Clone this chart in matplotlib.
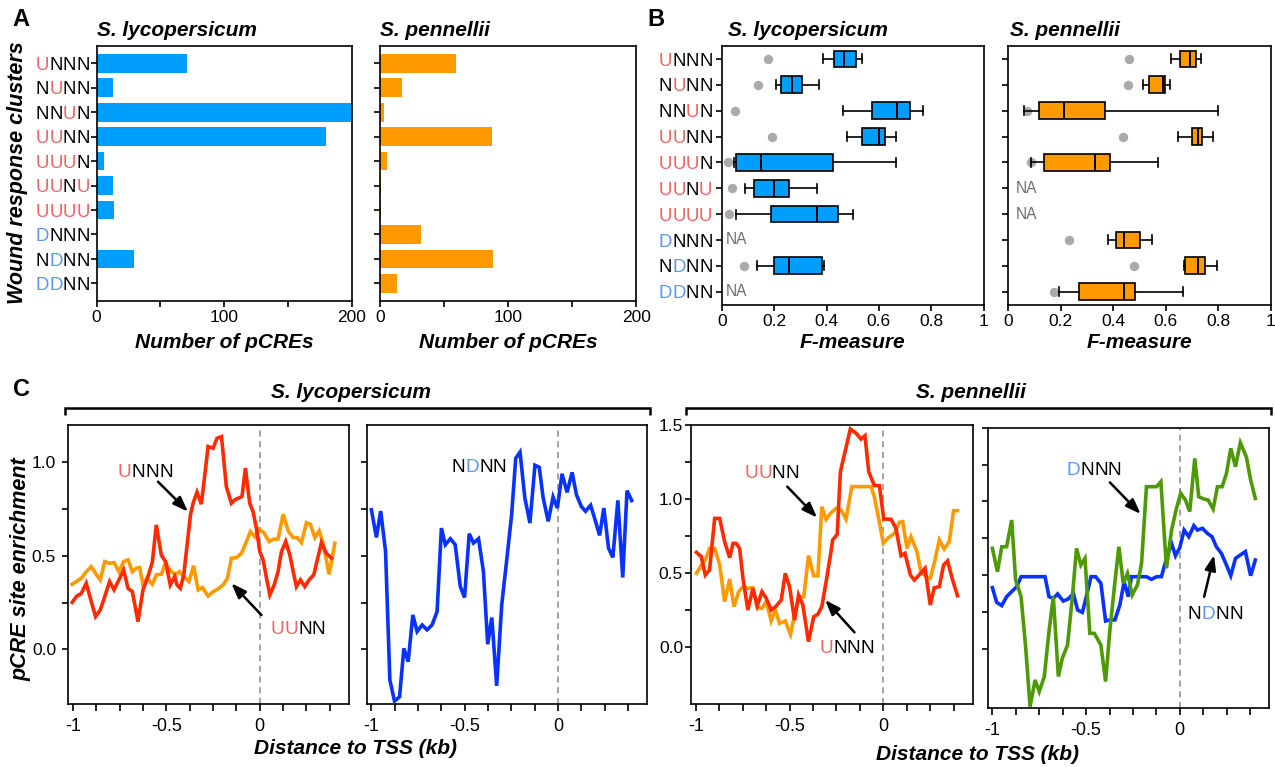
import matplotlib
matplotlib.use('Agg')
import matplotlib.pyplot as plt
import matplotlib.transforms as mtransforms
from matplotlib.lines import Line2D

plt.rcParams['font.family'] = ['Liberation Sans', 'DejaVu Sans']

# ---------------- data ----------------
clusters = ['UNNN', 'NUNN', 'NNUN', 'UUNN', 'UUUN', 'UUNU', 'UUUU', 'DNNN', 'NDNN', 'DDNN']

# Panel A: number of pCREs
bars_lyc = [71, 13, 200, 180, 6, 13, 14, 0, 29, 0]
bars_pen = [59, 17, 3, 87, 5, 0.4, 0.4, 32, 88, 13]

# Panel B: F-measure box statistics (None = NA)
lyc_whislo = [0.385, 0.206, 0.462, 0.478, 0.045, 0.088, 0.052, None, 0.134, None]
lyc_q1 = [0.429, 0.226, 0.574, 0.537, 0.055, 0.121, 0.188, None, 0.197, None]
lyc_med = [0.466, 0.267, 0.668, 0.600, 0.148, 0.200, 0.364, None, 0.257, None]
lyc_q3 = [0.511, 0.305, 0.718, 0.625, 0.426, 0.258, 0.444, None, 0.383, None]
lyc_whishi = [0.536, 0.370, 0.768, 0.667, 0.667, 0.364, 0.501, None, 0.389, None]
lyc_random = [0.176, 0.136, 0.051, 0.190, 0.024, 0.039, 0.028, None, 0.083, None]

pen_whislo = [0.619, 0.513, 0.060, 0.646, 0.086, None, None, 0.380, 0.670, 0.196]
pen_q1 = [0.656, 0.535, 0.118, 0.699, 0.137, None, None, 0.410, 0.675, 0.271]
pen_med = [0.694, 0.589, 0.213, 0.722, 0.333, None, None, 0.443, 0.722, 0.440]
pen_q3 = [0.717, 0.598, 0.371, 0.738, 0.390, None, None, 0.503, 0.749, 0.485]
pen_whishi = [0.736, 0.618, 0.800, 0.780, 0.570, None, None, 0.550, 0.795, 0.665]
pen_random = [0.460, 0.455, 0.072, 0.438, 0.087, None, None, 0.234, 0.478, 0.177]

# Panel C: pCRE site enrichment (distance kb, enrichment)
lyc_UNNN = [(-1.004, 0.251), (-0.982, 0.282), (-0.955, 0.299), (-0.929, 0.353), (-0.902, 0.255),
            (-0.879, 0.175), (-0.854, 0.210), (-0.830, 0.282), (-0.804, 0.362), (-0.780, 0.318),
            (-0.754, 0.371), (-0.729, 0.424), (-0.705, 0.326), (-0.682, 0.308), (-0.652, 0.148),
            (-0.625, 0.318), (-0.598, 0.389), (-0.575, 0.467), (-0.554, 0.665), (-0.527, 0.504),
            (-0.504, 0.468), (-0.479, 0.344), (-0.455, 0.389), (-0.443, 0.344), (-0.425, 0.326),
            (-0.407, 0.398), (-0.389, 0.558), (-0.371, 0.719), (-0.357, 0.781), (-0.336, 0.840),
            (-0.313, 0.776), (-0.291, 0.959), (-0.277, 1.084), (-0.250, 1.075), (-0.229, 1.128),
            (-0.205, 1.137), (-0.179, 0.870), (-0.152, 0.781), (-0.134, 0.799), (-0.113, 0.808),
            (-0.095, 0.817), (-0.077, 0.968), (-0.054, 0.781), (-0.036, 0.736), (-0.018, 0.647),
            (0.000, 0.522), (0.018, 0.478), (0.036, 0.380), (0.054, 0.291), (0.077, 0.344),
            (0.098, 0.415), (0.116, 0.522), (0.139, 0.576), (0.161, 0.504), (0.179, 0.415),
            (0.196, 0.335), (0.218, 0.371), (0.241, 0.335), (0.264, 0.371), (0.289, 0.398),
            (0.313, 0.499), (0.330, 0.570), (0.357, 0.512), (0.384, 0.488)]
lyc_UUNN = [(-1.004, 0.348), (-0.982, 0.362), (-0.955, 0.380), (-0.929, 0.415), (-0.902, 0.442),
            (-0.879, 0.406), (-0.854, 0.371), (-0.830, 0.469), (-0.804, 0.460), (-0.780, 0.463),
            (-0.754, 0.415), (-0.729, 0.469), (-0.705, 0.478), (-0.682, 0.415), (-0.661, 0.433),
            (-0.643, 0.437), (-0.625, 0.344), (-0.604, 0.380), (-0.575, 0.348), (-0.554, 0.398),
            (-0.527, 0.401), (-0.504, 0.463), (-0.482, 0.424), (-0.455, 0.398), (-0.429, 0.415),
            (-0.407, 0.389), (-0.379, 0.362), (-0.354, 0.447), (-0.330, 0.317), (-0.307, 0.330),
            (-0.277, 0.285), (-0.250, 0.308), (-0.223, 0.323), (-0.196, 0.344), (-0.173, 0.380),
            (-0.152, 0.487), (-0.125, 0.490), (-0.098, 0.513), (-0.075, 0.567), (-0.050, 0.629),
            (-0.027, 0.602), (-0.004, 0.642), (0.021, 0.624), (0.050, 0.576), (0.071, 0.588),
            (0.098, 0.590), (0.125, 0.722), (0.152, 0.633), (0.179, 0.597), (0.200, 0.597),
            (0.223, 0.570), (0.250, 0.677), (0.271, 0.668), (0.295, 0.597), (0.318, 0.633),
            (0.339, 0.567), (0.371, 0.401), (0.402, 0.567)]
lyc_NDNN = [(-1.000, 0.746), (-0.973, 0.598), (-0.950, 0.739), (-0.924, 0.523), (-0.901, -0.164),
            (-0.876, -0.277), (-0.849, -0.254), (-0.826, 0.005), (-0.803, -0.066), (-0.778, 0.184),
            (-0.755, 0.095), (-0.728, 0.130), (-0.702, 0.104), (-0.675, 0.130), (-0.648, 0.202),
            (-0.625, 0.648), (-0.604, 0.559), (-0.577, 0.591), (-0.551, 0.559), (-0.524, 0.336),
            (-0.501, 0.277), (-0.476, 0.618), (-0.453, 0.568), (-0.426, 0.591), (-0.400, 0.416),
            (-0.377, 0.027), (-0.355, 0.170), (-0.329, -0.195), (-0.302, 0.237), (-0.275, 0.479),
            (-0.249, 0.718), (-0.227, 1.021), (-0.204, 1.054), (-0.178, 0.809), (-0.151, 0.675),
            (-0.124, 0.984), (-0.101, 0.973), (-0.080, 0.809), (-0.053, 0.684), (-0.027, 0.814),
            (-0.004, 0.755), (0.021, 0.938), (0.048, 0.839), (0.075, 0.946), (0.098, 0.827),
            (0.124, 0.764), (0.147, 0.738), (0.174, 0.770), (0.195, 0.702), (0.222, 0.609),
            (0.245, 0.755), (0.270, 0.541), (0.293, 0.491), (0.320, 0.796), (0.346, 0.384),
            (0.369, 0.848), (0.394, 0.795)]
pen_UNNN = [(-0.996, 0.638), (-0.970, 0.609), (-0.949, 0.485), (-0.926, 0.519), (-0.899, 0.868),
            (-0.872, 0.868), (-0.846, 0.711), (-0.819, 0.602), (-0.801, 0.699), (-0.784, 0.699),
            (-0.766, 0.665), (-0.748, 0.462), (-0.722, 0.248), (-0.695, 0.395), (-0.672, 0.277),
            (-0.647, 0.372), (-0.624, 0.327), (-0.598, 0.248), (-0.571, 0.275), (-0.544, 0.316),
            (-0.523, 0.496), (-0.500, 0.406), (-0.473, 0.180), (-0.452, 0.350), (-0.429, 0.282),
            (-0.399, 0.034), (-0.371, 0.203), (-0.349, 0.219), (-0.328, 0.271), (-0.305, 0.440),
            (-0.282, 0.620), (-0.270, 0.722), (-0.246, 0.760), (-0.229, 1.184), (-0.204, 1.320),
            (-0.176, 1.473), (-0.145, 1.444), (-0.119, 1.405), (-0.098, 1.428), (-0.078, 1.184),
            (-0.048, 1.090), (-0.021, 1.090), (0.002, 0.864), (0.041, 0.862), (0.067, 0.801),
            (0.094, 0.616), (0.115, 0.632), (0.144, 0.485), (0.165, 0.451), (0.191, 0.485),
            (0.222, 0.530), (0.250, 0.282), (0.271, 0.399), (0.298, 0.406), (0.321, 0.553),
            (0.342, 0.580), (0.369, 0.451), (0.395, 0.345)]
pen_UUNN = [(-0.996, 0.496), (-0.970, 0.553), (-0.949, 0.587), (-0.926, 0.665), (-0.899, 0.665),
            (-0.872, 0.553), (-0.846, 0.305), (-0.819, 0.458), (-0.796, 0.271), (-0.771, 0.372),
            (-0.748, 0.406), (-0.722, 0.395), (-0.695, 0.399), (-0.672, 0.264), (-0.647, 0.259),
            (-0.624, 0.305), (-0.598, 0.174), (-0.576, 0.248), (-0.553, 0.158), (-0.523, 0.174),
            (-0.495, 0.083), (-0.473, 0.214), (-0.447, 0.338), (-0.424, 0.338), (-0.399, 0.616),
            (-0.371, 0.480), (-0.349, 0.480), (-0.328, 0.947), (-0.305, 0.862), (-0.282, 0.902),
            (-0.252, 0.936), (-0.225, 0.925), (-0.199, 0.862), (-0.168, 1.083), (-0.140, 1.083),
            (-0.110, 1.083), (-0.083, 1.083), (-0.066, 1.083), (-0.048, 1.015), (-0.027, 0.880),
            (0.000, 0.699), (0.023, 0.733), (0.059, 0.767), (0.085, 0.841), (0.103, 0.846),
            (0.126, 0.665), (0.147, 0.744), (0.179, 0.643), (0.200, 0.508), (0.227, 0.474),
            (0.250, 0.462), (0.275, 0.587), (0.298, 0.722), (0.324, 0.661), (0.351, 0.711),
            (0.374, 0.920), (0.395, 0.920)]
pen_DNNN = [(-1.000, 0.682), (-0.973, 0.524), (-0.950, 0.693), (-0.924, 0.693), (-0.897, 0.874),
            (-0.876, 0.468), (-0.847, 0.355), (-0.822, 0.005), (-0.799, -0.391), (-0.772, -0.210),
            (-0.750, -0.289), (-0.723, -0.187), (-0.698, 0.117), (-0.675, 0.355), (-0.648, -0.187),
            (-0.627, -0.063), (-0.599, 0.027), (-0.574, 0.343), (-0.551, 0.682), (-0.528, 0.569),
            (-0.506, 0.614), (-0.480, 0.106), (-0.456, 0.106), (-0.421, 0.027), (-0.396, -0.221),
            (-0.373, 0.129), (-0.346, 0.456), (-0.325, 0.693), (-0.302, 0.445), (-0.279, 0.513),
            (-0.254, 0.366), (-0.226, 0.434), (-0.204, 0.581), (-0.178, 1.100), (-0.151, 1.100),
            (-0.124, 1.100), (-0.101, 1.134), (-0.071, 0.547), (-0.044, 0.806), (-0.018, 0.953),
            (0.005, 1.055), (0.030, 1.010), (0.053, 0.931), (0.080, 1.292), (0.101, 1.032),
            (0.130, 1.016), (0.151, 1.010), (0.178, 0.949), (0.201, 1.100), (0.226, 1.100),
            (0.249, 1.190), (0.272, 1.360), (0.297, 1.236), (0.323, 1.398), (0.355, 1.303),
            (0.378, 1.145), (0.403, 1.021)]
pen_NDNN = [(-1.000, 0.416), (-0.977, 0.316), (-0.950, 0.294), (-0.924, 0.355), (-0.897, 0.389),
            (-0.870, 0.422), (-0.847, 0.490), (-0.826, 0.490), (-0.799, 0.490), (-0.773, 0.490),
            (-0.746, 0.490), (-0.719, 0.490), (-0.698, 0.355), (-0.675, 0.343), (-0.652, 0.373),
            (-0.622, 0.325), (-0.595, 0.339), (-0.568, 0.377), (-0.545, 0.264), (-0.520, 0.248),
            (-0.492, 0.389), (-0.474, 0.490), (-0.449, 0.490), (-0.421, 0.445), (-0.396, 0.190),
            (-0.373, 0.197), (-0.346, 0.197), (-0.320, 0.298), (-0.297, 0.456), (-0.275, 0.355),
            (-0.258, 0.490), (-0.231, 0.490), (-0.204, 0.490), (-0.178, 0.490), (-0.151, 0.472),
            (-0.124, 0.490), (-0.098, 0.490), (-0.071, 0.614), (-0.044, 0.716), (-0.023, 0.632),
            (0.000, 0.687), (0.023, 0.806), (0.048, 0.761), (0.075, 0.836), (0.094, 0.806),
            (0.121, 0.818), (0.147, 0.784), (0.172, 0.761), (0.195, 0.693), (0.222, 0.648),
            (0.249, 0.569), (0.272, 0.497), (0.297, 0.614), (0.323, 0.637), (0.350, 0.660),
            (0.378, 0.497), (0.403, 0.603)]

# annotation positions (label centre, arrow tail, arrow head) in data coords
ann_c1 = [('UNNN', (-0.612, 0.955), (-0.545, 0.896), (-0.384, 0.736)),
          ('UUNN', (0.205, 0.118), (0.009, 0.183), (-0.152, 0.353))]
ann_c2 = [('NDNN', (-0.423, 0.982), None, None)]
ann_c3 = [('UUNN', (-0.594, 1.189), (-0.512, 1.083), (-0.353, 0.873)),
          ('UNNN', (-0.195, 0.000), (-0.154, 0.097), (-0.310, 0.316))]
ann_c4 = [('DNNN', (-0.458, 1.224), (-0.373, 1.129), (-0.209, 0.915)),
          ('NDNN', (0.190, 0.249), (0.130, 0.354), (0.183, 0.637))]

# ---------------- style ----------------
BAR_BLUE = '#009ffd'
BAR_ORANGE = '#ff9900'
LINE_RED = '#ff2a00'
LINE_ORANGE = '#ff9900'
LINE_BLUE = '#0a32ff'
LINE_GREEN = '#4e9a06'
RED_L = '#f06464'
BLUE_L = '#5f97ec'
letter_color = {'U': RED_L, 'D': BLUE_L, 'N': 'black'}

W, H = 1275, 767
fig = plt.figure(figsize=(W / 100, H / 100), dpi=100)


def rect(l, t, r, b):
    return [l / W, 1 - b / H, (r - l) / W, (b - t) / H]


def colored(ax, text, x, y, trans, fs, anchor, dx_pt=0.0):
    adv = 0.722 * fs
    cap = 0.716 * fs
    n = len(text)
    for i, ch in enumerate(text):
        if anchor == 'right':
            cx = dx_pt - (n - i - 0.5) * adv
        else:
            cx = dx_pt + (i - (n - 1) / 2) * adv
        tr = mtransforms.offset_copy(trans, fig=fig, x=cx, y=-cap / 2, units='points')
        ax.text(x, y, ch, transform=tr, ha='center', va='baseline', fontsize=fs,
                color=letter_color[ch], clip_on=False)


def style_axes(ax, pad=2.5):
    for s in ax.spines.values():
        s.set_linewidth(1.2)
    ax.tick_params(which='both', direction='out', width=1.2, length=4.2,
                   labelsize=12.5, pad=pad)


BI = dict(fontweight='bold', style='italic')
rows = list(range(len(clusters)))

# ---------------- Panel A ----------------
fig.text(21 / W, 1 - 20 / H, 'A', fontsize=17, fontweight='bold', ha='center', va='center')
fig.text(17.5 / W, 1 - 173 / H, 'Wound response clusters', rotation=90, fontsize=15.5,
         ha='center', va='center', **BI)
for (l, r, vals, col, title, lab) in [(96.6, 352, bars_lyc, BAR_BLUE, 'S. lycopersicum', True),
                                      (380.2, 636.4, bars_pen, BAR_ORANGE, 'S. pennellii', False)]:
    ax = fig.add_axes(rect(l, 45.7, r, 301))
    ax.barh(rows, vals, height=0.76, color=col, zorder=2)
    ax.set_xlim(0, 200)
    ax.set_ylim(9.72, -0.72)
    ax.set_xticks([0, 100, 200])
    ax.set_xticklabels(['0', '100', '200'])
    ax.set_xticks([50, 150], minor=True)
    ax.set_yticks(rows)
    ax.set_yticklabels([])
    style_axes(ax)
    fig.text(l / W, 1 - 30 / H, title, fontsize=15, ha='left', va='center', **BI)
    fig.text((l + r) / 2 / W, 1 - 343 / H, 'Number of pCREs', fontsize=15,
             ha='center', va='center', **BI)
    if lab:
        for i, c in enumerate(clusters):
            colored(ax, c, 0, i, ax.get_yaxis_transform(), 13.4, 'right', dx_pt=-5.0)

# ---------------- Panel B ----------------
fig.text(656 / W, 1 - 20 / H, 'B', fontsize=17, fontweight='bold', ha='center', va='center')
panelB = [(722, 983.5, (lyc_whislo, lyc_q1, lyc_med, lyc_q3, lyc_whishi), lyc_random,
           BAR_BLUE, 'S. lycopersicum', 728, True, 0.015),
          (1008, 1270.7, (pen_whislo, pen_q1, pen_med, pen_q3, pen_whishi), pen_random,
           BAR_ORANGE, 'S. pennellii', 1010, False, 0.029)]
for (l, r, st, rnd, col, title, tx, lab, na_x) in panelB:
    ax = fig.add_axes(rect(l, 46, r, 304.6))
    stats, pos = [], []
    for i in rows:
        if st[2][i] is None:
            continue
        stats.append(dict(whislo=st[0][i], q1=st[1][i], med=st[2][i], q3=st[3][i],
                          whishi=st[4][i], fliers=[]))
        pos.append(i)
    kw = dict(positions=pos, widths=0.65, patch_artist=True, showfliers=False,
              manage_ticks=False, capwidths=0.35, zorder=3,
              boxprops=dict(facecolor=col, edgecolor='black', linewidth=1.2),
              medianprops=dict(color='black', linewidth=1.4),
              whiskerprops=dict(color='black', linewidth=1.2),
              capprops=dict(color='black', linewidth=1.2))
    try:
        ax.bxp(stats, orientation='horizontal', **kw)
    except TypeError:
        ax.bxp(stats, vert=False, **kw)
    dx = [rnd[i] for i in rows if rnd[i] is not None]
    dy = [i for i in rows if rnd[i] is not None]
    ax.plot(dx, dy, 'o', color='#aaaaaa', markersize=6.8, markeredgewidth=0, zorder=2)
    for i in rows:
        if st[2][i] is None:
            ax.text(na_x, i, 'NA', color='#6e6e6e', fontsize=11.2, ha='left', va='center')
    ax.set_xlim(0, 1)
    ax.set_ylim(9.5, -0.5)
    ax.set_xticks([0, 0.2, 0.4, 0.6, 0.8, 1.0])
    ax.set_xticklabels(['0', '0.2', '0.4', '0.6', '0.8', '1'])
    ax.set_yticks(rows)
    ax.set_yticklabels([])
    style_axes(ax)
    fig.text(tx / W, 1 - 30 / H, title, fontsize=15, ha='left', va='center', **BI)
    fig.text((l + r) / 2 / W, 1 - 343 / H, 'F-measure', fontsize=15,
             ha='center', va='center', **BI)
    if lab:
        for i, c in enumerate(clusters):
            colored(ax, c, 0, i, ax.get_yaxis_transform(), 13.4, 'right', dx_pt=-6.9)

# ---------------- Panel C ----------------
fig.text(21 / W, 1 - 390 / H, 'C', fontsize=17, fontweight='bold', ha='center', va='center')
fig.text(21 / W, 1 - 569.5 / H, 'pCRE site enrichment', rotation=90, fontsize=15.5,
         ha='center', va='center', **BI)
for (x0, x1, cx, title) in [(65, 650, 351, 'S. lycopersicum'), (686, 1271, 970.7, 'S. pennellii')]:
    fig.add_artist(Line2D([x0 / W, x0 / W, x1 / W, x1 / W],
                          [1 - 414.5 / H, 1 - 408 / H, 1 - 408 / H, 1 - 414.5 / H],
                          transform=fig.transFigure, color='black', lw=1.8,
                          solid_joinstyle='miter', solid_capstyle='butt'))
    fig.text(cx / W, 1 - 392 / H, title, fontsize=15, ha='center', va='center', **BI)

fig.text(355 / W, 1 - 748 / H, 'Distance to TSS (kb)', fontsize=15, ha='center', va='center', **BI)
fig.text(977 / W, 1 - 755 / H, 'Distance to TSS (kb)', fontsize=15, ha='center', va='center', **BI)

minor_x = [-0.875, -0.75, -0.625, -0.375, -0.25, -0.125, 0.125, 0.25, 0.375]
c_panels = [
    ((68.3, 425, 348.7, 704.3), (-0.294, 1.199), [0.0, 0.5, 1.0], [0.25, 0.75],
     ['0.0', '0.5', '1.0'], 4.3, [(lyc_UUNN, LINE_ORANGE), (lyc_UNNN, LINE_RED)], ann_c1),
    ((366.7, 425, 647, 704.3), (-0.294, 1.199), [0.0, 0.5, 1.0], [0.25, 0.75],
     None, 4.3, [(lyc_NDNN, LINE_BLUE)], ann_c2),
    ((691, 425, 972.7, 704.3), (-0.39, 1.5), [0.0, 0.5, 1.0, 1.5], [0.25, 0.75, 1.25],
     ['0.0', '0.5', '1.0', '1.5'], 1.2, [(pen_UUNN, LINE_ORANGE), (pen_UNNN, LINE_RED)], ann_c3),
    ((987.7, 427.7, 1269, 707.7), (-0.398, 1.499), [0.0, 0.5, 1.0, 1.5], [0.25, 0.75, 1.25],
     None, 1.2, [(pen_NDNN, LINE_BLUE), (pen_DNNN, LINE_GREEN)], ann_c4),
]
for (box, ylim, ymaj, ymin, ylabs, ypad, series, anns) in c_panels:
    ax = fig.add_axes(rect(*box))
    ax.axvline(0, color='#8a8a8a', lw=1.1, ls=(0, (4, 3)), zorder=1)
    for data, col in series:
        xs = [p[0] for p in data]
        ys = [p[1] for p in data]
        ax.plot(xs, ys, color=col, lw=2.6, solid_joinstyle='miter', zorder=3)
    ax.set_xlim(-1.025, 0.476)
    ax.set_ylim(*ylim)
    ax.set_xticks([-1, -0.5, 0])
    ax.set_xticklabels(['-1', '-0.5', '0'])
    ax.set_xticks(minor_x, minor=True)
    ax.set_yticks(ymaj)
    ax.set_yticks(ymin, minor=True)
    if ylabs is None:
        ax.set_yticklabels([])
    else:
        ax.set_yticklabels(ylabs)
    style_axes(ax)
    ax.tick_params(axis='x', which='both', length=5.2, pad=5.0, labelsize=13)
    ax.tick_params(axis='y', which='both', length=4.5, pad=ypad, labelsize=12.5)
    for (lab, cpos, tail, head) in anns:
        colored(ax, lab, cpos[0], cpos[1], ax.transData, 13.7, 'center')
        if tail is not None:
            ax.annotate('', xy=head, xytext=tail,
                        arrowprops=dict(arrowstyle='-|>,head_length=0.6,head_width=0.22',
                                        color='black', lw=1.8, mutation_scale=15,
                                        shrinkA=0, shrinkB=0), zorder=4)

fig.savefig('out.png', dpi=100)
